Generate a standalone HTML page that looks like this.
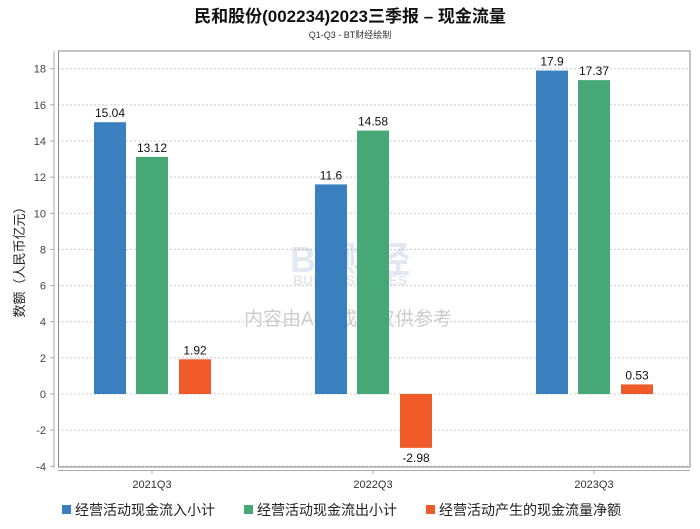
<!DOCTYPE html>
<html><head><meta charset="utf-8"><style>
body{margin:0;background:#fff;}
svg text{font-family:"Liberation Sans","Noto Sans CJK SC",sans-serif;}
</style></head><body>
<svg id="chart" width="700" height="524" viewBox="0 0 700 524">
<text x="350" y="22" text-anchor="middle" font-size="17" font-weight="bold" fill="#111">民和股份(002234)2023三季报 – 现金流量</text>
<text x="350" y="38" text-anchor="middle" font-size="9" fill="#333">Q1-Q3 - BT财经绘制</text>
<g id="grid"></g>
<rect x="58.5" y="51" width="631.5" height="416" fill="none" stroke="#888" stroke-width="1"/>
<line x1="54" y1="51" x2="54" y2="468" stroke="#aaa"/>
<line x1="58" y1="470.5" x2="690" y2="470.5" stroke="#aaa"/>
<text x="560" y="0" font-size="1"></text>
<g opacity="0.18">
<text x="350" y="272" text-anchor="middle" font-size="36" font-weight="bold" fill="#6a7fb0">BT财经</text>
<text x="350" y="285" text-anchor="middle" font-size="14" font-weight="bold" fill="#6a7fb0">BUSINESSTIMES</text>
</g>
<text x="348" y="325" text-anchor="middle" font-size="19" fill="#ccc">内容由AI生成，仅供参考</text>
<text transform="translate(24,259) rotate(-90)" text-anchor="middle" font-size="13" fill="#222">数额（人民币亿元）</text>
<g id="bars"></g>
<g id="legend"></g>
</svg>
<script>
const categories=["2021Q3","2022Q3","2023Q3"];
const inflow=[15.04,11.6,17.9];
const outflow=[13.12,14.58,17.37];
const net=[1.92,-2.98,0.53];
const yTicks=[-4,-2,0,2,4,6,8,10,12,14,16,18];
const seriesNames=["经营活动现金流入小计","经营活动现金流出小计","经营活动产生的现金流量净额"];
const colors=["#3a80be","#45a876","#f05a28"];
const NS="http://www.w3.org/2000/svg";
const y=v=>394-v*18.07;
const xc=i=>152+i*221;
function mk(tag,attrs,parent){const e=document.createElementNS(NS,tag);for(const k in attrs)e.setAttribute(k,attrs[k]);parent.appendChild(e);return e;}
const grid=document.getElementById('grid');
yTicks.forEach(t=>{
  const l=mk('line',{x1:58,x2:690,y1:y(t),y2:y(t),stroke:'#ccc','stroke-dasharray':'2,2'},grid);
  
  
  mk('line',{x1:50,x2:54,y1:y(t),y2:y(t),stroke:'#aaa'},grid);
  const tx=mk('text',{x:46,y:y(t)+4,'text-anchor':'end','font-size':11,fill:'#444'},grid);
  tx.textContent=t;
  
  
});
const bars=document.getElementById('bars');
const series=[inflow,outflow,net];
const offs=[-58,-16,27];
categories.forEach((c,i)=>{
  mk('line',{x1:xc(i),x2:xc(i),y1:470,y2:474,stroke:'#aaa'},bars);
  const tx=mk('text',{x:xc(i),y:488,'text-anchor':'middle','font-size':11,fill:'#333'},bars);
  tx.textContent=c;
  
  
  series.forEach((s,k)=>{
    const v=s[i];const x0=xc(i)+offs[k];
    const top=Math.min(y(v),y(0)),h=Math.abs(y(v)-y(0));
    const r=mk('rect',{x:x0,y:top,width:32,height:h,fill:colors[k]},bars);
    
    
    const lt=mk('text',{x:x0+16,y:v>=0?y(v)-5:y(v)+14,'text-anchor':'middle','font-size':12,fill:'#111'},bars);
    lt.textContent=v;
    
    
  });
});
const lg=document.getElementById('legend');
const lx=[62,244,426];
seriesNames.forEach((n,k)=>{
  const g=mk('g',{},lg);
  
  
  mk('rect',{x:lx[k],y:505,width:9,height:9,fill:colors[k]},g);
  const t=mk('text',{x:lx[k]+13,y:515,'font-size':14,fill:'#222'},g);
  t.textContent=n;
});
</script>
</body></html>
